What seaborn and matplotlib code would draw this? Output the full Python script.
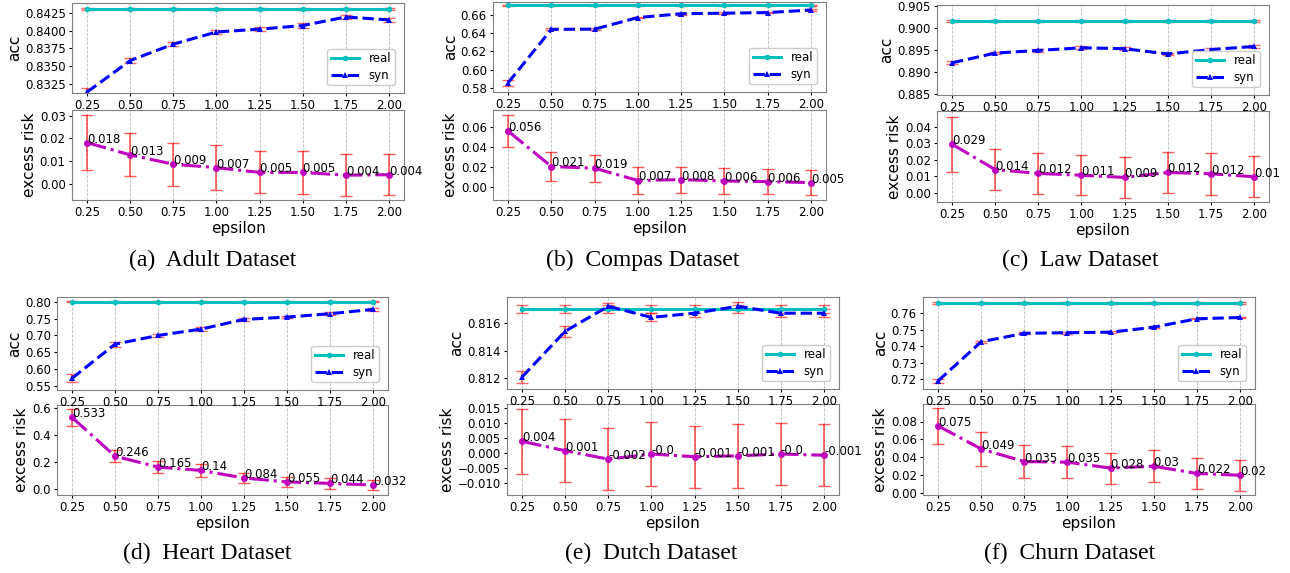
import matplotlib
matplotlib.use("Agg")
import matplotlib.pyplot as plt
import matplotlib.ticker as mticker
import seaborn as sns
import pandas as pd

eps = [0.25, 0.5, 0.75, 1.0, 1.25, 1.5, 1.75, 2.0]
eps_ticks = ["0.25", "0.50", "0.75", "1.00", "1.25", "1.50", "1.75", "2.00"]

# Adult
adult_real = [0.8430, 0.8430, 0.8430, 0.8430, 0.8430, 0.8430, 0.8430, 0.8430]
adult_real_err = [0.0001, 0.0001, 0.0001, 0.0001, 0.0001, 0.0001, 0.0001, 0.0001]
adult_syn = [0.8314, 0.8358, 0.8381, 0.8398, 0.8402, 0.8407, 0.8419, 0.8415]
adult_syn_err = [0.0006, 0.0003, 0.0003, 0.0003, 0.0003, 0.0003, 0.0003, 0.0003]
adult_risk = [0.0182, 0.0128, 0.0087, 0.0072, 0.0051, 0.0051, 0.0039, 0.0041]
adult_risk_err = [0.0122, 0.0094, 0.0095, 0.0098, 0.0092, 0.0095, 0.0091, 0.0091]

# Compas
compas_real = [0.6705, 0.6705, 0.6705, 0.6705, 0.6705, 0.6705, 0.6705, 0.6705]
compas_real_err = [0.0005, 0.0005, 0.0005, 0.0005, 0.0005, 0.0005, 0.0005, 0.0005]
compas_syn = [0.5856, 0.6442, 0.6445, 0.6572, 0.6614, 0.6620, 0.6627, 0.6655]
compas_syn_err = [0.0035, 0.0012, 0.0010, 0.0010, 0.0010, 0.0008, 0.0008, 0.0010]
compas_risk = [0.0562, 0.0208, 0.0191, 0.0068, 0.0077, 0.0063, 0.0057, 0.0047]
compas_risk_err = [0.0160, 0.0147, 0.0133, 0.0137, 0.0130, 0.0133, 0.0127, 0.0128]

# Law
law_real = [0.9016, 0.9016, 0.9016, 0.9016, 0.9016, 0.9016, 0.9016, 0.9016]
law_real_err = [0.0002, 0.0002, 0.0002, 0.0002, 0.0002, 0.0002, 0.0002, 0.0002]
law_syn = [0.8921, 0.8943, 0.8949, 0.8955, 0.8953, 0.8941, 0.8951, 0.8958]
law_syn_err = [0.0003, 0.0003, 0.0003, 0.0003, 0.0003, 0.0003, 0.0003, 0.0003]
law_risk = [0.0294, 0.0141, 0.0118, 0.0107, 0.0094, 0.0124, 0.0116, 0.0098]
law_risk_err = [0.0165, 0.0124, 0.0122, 0.0121, 0.0122, 0.0126, 0.0127, 0.0122]

# Heart
heart_real = [0.801, 0.801, 0.801, 0.801, 0.801, 0.801, 0.801, 0.801]
heart_real_err = [0.002, 0.002, 0.002, 0.002, 0.002, 0.002, 0.002, 0.002]
heart_syn = [0.572, 0.674, 0.700, 0.719, 0.748, 0.755, 0.765, 0.778]
heart_syn_err = [0.0125, 0.007, 0.005, 0.005, 0.004, 0.004, 0.004, 0.004]
heart_risk = [0.533, 0.246, 0.165, 0.14, 0.084, 0.055, 0.044, 0.032]
heart_risk_err = [0.060, 0.047, 0.043, 0.045, 0.040, 0.035, 0.040, 0.040]

# Dutch
dutch_real = [0.8170, 0.8170, 0.8170, 0.8170, 0.8170, 0.8170, 0.8170, 0.8170]
dutch_real_err = [0.0003, 0.0003, 0.0003, 0.0003, 0.0003, 0.0003, 0.0003, 0.0003]
dutch_syn = [0.8121, 0.8154, 0.8172, 0.8164, 0.8167, 0.8172, 0.8167, 0.8167]
dutch_syn_err = [0.00043, 0.0004, 0.00026, 0.00028, 0.0003, 0.0003, 0.0003, 0.0003]
dutch_risk = [0.0039, 0.0008, -0.0020, -0.0003, -0.0012, -0.0009, -0.0003, -0.0007]
dutch_risk_err = [0.0108, 0.0105, 0.0104, 0.0107, 0.0103, 0.0106, 0.0104, 0.0103]

# Churn
churn_real = [0.7661, 0.7661, 0.7661, 0.7661, 0.7661, 0.7661, 0.7661, 0.7661]
churn_real_err = [0.0004, 0.0004, 0.0004, 0.0004, 0.0004, 0.0004, 0.0004, 0.0004]
churn_syn = [0.7190, 0.7427, 0.7478, 0.7482, 0.7485, 0.7515, 0.7566, 0.7574]
churn_syn_err = [0.0010, 0.0006, 0.0006, 0.0005, 0.0005, 0.0005, 0.0004, 0.0004]
churn_risk = [0.0751, 0.0494, 0.0353, 0.0347, 0.0281, 0.0302, 0.0221, 0.0201]
churn_risk_err = [0.0198, 0.0190, 0.0184, 0.0180, 0.0173, 0.0180, 0.0173, 0.0173]

captions = ["(a)  Adult Dataset", "(b)  Compas Dataset", "(c)  Law Dataset",
            "(d)  Heart Dataset", "(e)  Dutch Dataset", "(f)  Churn Dataset"]

plt.rcParams["axes.edgecolor"] = "gray"
plt.rcParams["xtick.labelsize"] = 8.5
plt.rcParams["ytick.labelsize"] = 8.5
plt.rcParams["axes.labelsize"] = 11
plt.rcParams["xtick.major.size"] = 2.5
plt.rcParams["ytick.major.size"] = 2.5
plt.rcParams["xtick.major.pad"] = 1.5
plt.rcParams["ytick.major.pad"] = 2
plt.rcParams["axes.labelpad"] = 2

W, H = 1290, 573
fig = plt.figure(figsize=(12.9, 5.73), dpi=100)

def rect(x0, x1, y0, y1):
    return [x0 / W, 1 - y1 / H, (x1 - x0) / W, (y1 - y0) / H]

panels = [
    (adult_real, adult_real_err, adult_syn, adult_syn_err, adult_risk, adult_risk_err),
    (compas_real, compas_real_err, compas_syn, compas_syn_err, compas_risk, compas_risk_err),
    (law_real, law_real_err, law_syn, law_syn_err, law_risk, law_risk_err),
    (heart_real, heart_real_err, heart_syn, heart_syn_err, heart_risk, heart_risk_err),
    (dutch_real, dutch_real_err, dutch_syn, dutch_syn_err, dutch_risk, dutch_risk_err),
    (churn_real, churn_real_err, churn_syn, churn_syn_err, churn_risk, churn_risk_err),
]

# pixel boxes: x0, x1, top axes y0-y1, bottom axes y0-y1, caption x, caption y
boxes = [
    (72, 404, 3, 93, 110, 200, 213, 260),
    (493, 826, 2, 92, 110, 200, 643, 260),
    (937, 1269, 5, 95, 111, 202, 1080, 260),
    (57, 388, 297, 390, 405, 495, 207, 553),
    (507, 839, 297, 389, 404, 495, 651, 553),
    (923, 1255, 297, 389, 404, 495, 1070, 553),
]
acc_lims = [(0.83126, 0.84386), (0.5754, 0.6743), (0.8848, 0.9052),
            (0.537, 0.815), (0.81123, 0.81787), (0.7141, 0.7698)]
acc_steps = [0.0025, 0.02, 0.005, 0.05, 0.002, 0.01]
risk_lims = [(-0.0070, 0.0325), (-0.0127, 0.0773), (-0.0054, 0.0494),
             (-0.042, 0.625), (-0.0139, 0.0163), (-0.0019, 0.0995)]
risk_steps = [0.01, 0.02, 0.01, 0.2, 0.005, 0.02]

for i, (real, real_err, syn, syn_err, risk, risk_err) in enumerate(panels):
    x0, x1, ty0, ty1, by0, by1, cx, cy = boxes[i]
    df = pd.DataFrame({"epsilon": eps, "real": real, "syn": syn, "risk": risk})

    ax1 = fig.add_axes(rect(x0, x1, ty0, ty1))
    ax1.set_zorder(3)
    ax1.errorbar(eps, real, yerr=real_err, fmt="none", ecolor="red", capsize=4, alpha=0.6, elinewidth=1.2)
    ax1.errorbar(eps, syn, yerr=syn_err, fmt="none", ecolor="red", capsize=4, alpha=0.6, elinewidth=1.2)
    sns.lineplot(data=df, x="epsilon", y="real", ax=ax1, color="c", marker="o", markersize=4,
                 markeredgewidth=0, linewidth=2.2, label="real")
    sns.lineplot(data=df, x="epsilon", y="syn", ax=ax1, color="b", marker="^", markersize=4,
                 markeredgewidth=0, linewidth=2.2, linestyle="--", label="syn")
    ax1.set_ylim(*acc_lims[i])
    ax1.yaxis.set_major_locator(mticker.MultipleLocator(acc_steps[i]))
    ax1.set_ylabel("acc")
    ax1.set_xlabel("")
    ax1.set_xticks(eps)
    ax1.set_xticklabels(eps_ticks)
    ax1.grid(axis="x", linestyle="--", color="#bbbbbb", linewidth=0.6)
    ax1.legend(loc="lower right", bbox_to_anchor=(0.99, 0.02), fontsize=8.5, edgecolor="#cccccc",
               handlelength=2.4, framealpha=1, borderpad=0.3, labelspacing=0.3)

    ax2 = fig.add_axes(rect(x0, x1, by0, by1))
    ax2.errorbar(eps, risk, yerr=risk_err, fmt="none", ecolor="red", capsize=4, alpha=0.65, elinewidth=1.2)
    sns.lineplot(data=df, x="epsilon", y="risk", ax=ax2, color="m", marker="o", markersize=5,
                 markeredgewidth=0, linewidth=2.2, linestyle="-.")
    for e, r in zip(eps, risk):
        ax2.text(e, r, str(round(r, 3)), fontsize=8.5)
    ax2.set_ylim(*risk_lims[i])
    ax2.yaxis.set_major_locator(mticker.MultipleLocator(risk_steps[i]))
    ax2.set_ylabel("excess risk")
    ax2.set_xlabel("epsilon")
    ax2.set_xticks(eps)
    ax2.set_xticklabels(eps_ticks)
    ax2.grid(axis="x", linestyle="--", color="#bbbbbb", linewidth=0.6)

    fig.text(cx / W, 1 - cy / H, captions[i], ha="center", va="center",
             fontsize=17, family="Liberation Serif")

fig.savefig("out.png", dpi=100)
